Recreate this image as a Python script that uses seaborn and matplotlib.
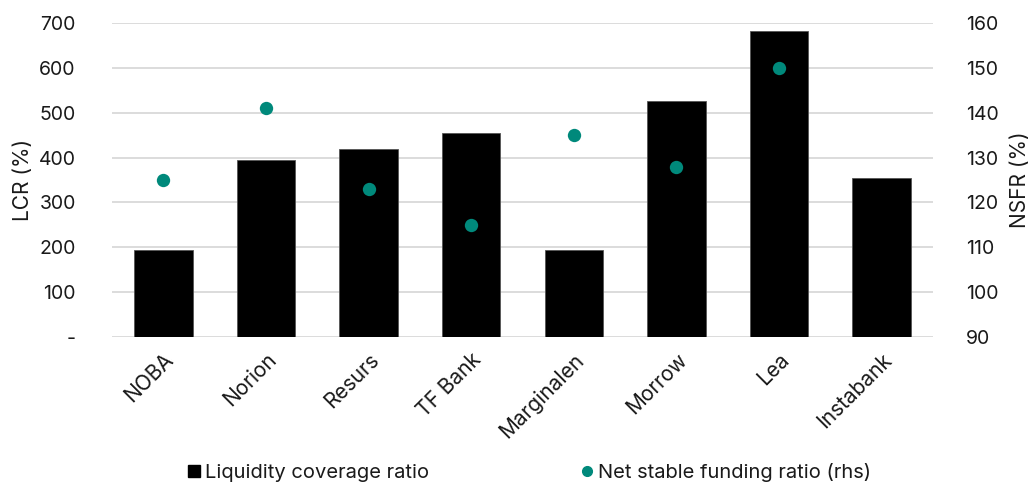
import numpy as np
import pandas as pd
import matplotlib
matplotlib.use("Agg")
import matplotlib.pyplot as plt
import seaborn as sns
from matplotlib.lines import Line2D
from matplotlib.ticker import FuncFormatter

banks = ["NOBA", "Norion", "Resurs", "TF Bank", "Marginalen", "Morrow", "Lea", "Instabank"]
lcr = [193, 395, 420, 454, 195, 527, 682, 354]
nsfr = [125, 141, 123, 115, 135, 128, 150, np.nan]

lcr_ticks = [0, 100, 200, 300, 400, 500, 600, 700]
nsfr_ticks = [90, 100, 110, 120, 130, 140, 150, 160]

bar_color = "#000000"
dot_color = "#00897b"
grid_color = "#d9d9d9"
text_color = "#1a1a1a"

sns.set_theme(style="white")
plt.rcParams["font.family"] = ["Inter", "DejaVu Sans"]

df = pd.DataFrame({"bank": banks, "lcr": lcr, "nsfr": nsfr})

fig = plt.figure(figsize=(10.34, 4.83), dpi=100)
ax = fig.add_axes([0.1083, 0.3023, 0.7940, 0.6501])
ax2 = ax.twinx()

sns.barplot(data=df, x="bank", y="lcr", color=bar_color, width=0.57,
            edgecolor="#555555", linewidth=0.6, ax=ax, zorder=3, saturation=1)
sns.stripplot(data=df, x="bank", y="nsfr", color=dot_color, size=9.6,
              jitter=False, ax=ax2, zorder=4, linewidth=0)

ax.set_ylim(0, 700)
ax.set_yticks(lcr_ticks)
ax.yaxis.set_major_formatter(FuncFormatter(lambda v, p: "-" if v == 0 else f"{int(v)}"))
ax2.set_ylim(90, 160)
ax2.set_yticks(nsfr_ticks)
ax.set_xlim(-0.5, len(banks) - 0.5)

ax.yaxis.grid(True, color=grid_color, linewidth=1.3, zorder=0)
ax.set_axisbelow(True)
for a in (ax, ax2):
    for s in a.spines.values():
        s.set_visible(False)
    a.tick_params(length=0, labelsize=14, colors=text_color)

ax.tick_params(axis="y", pad=26)
ax2.tick_params(axis="y", pad=24)
ax.set_xlabel("")
ax2.set_xlabel("")
ax.set_ylabel("LCR (%)", fontsize=15, color=text_color, labelpad=4)
ax2.set_ylabel("NSFR (%)", fontsize=15, color=text_color, labelpad=8)

ax.set_xticks(range(len(banks)))
ax.set_xticklabels(banks, rotation=45, ha="right", rotation_mode="anchor", fontsize=15)
ax.tick_params(axis="x", pad=9)

handles = [
    Line2D([], [], marker="s", linestyle="none", markersize=9, color=bar_color),
    Line2D([], [], marker="o", linestyle="none", markersize=7, color=dot_color),
]
fig.legend(handles, ["Liquidity coverage ratio", "Net stable funding ratio (rhs)"],
           loc="lower center", bbox_to_anchor=(0.5116, -0.035), ncol=2, frameon=False,
           fontsize=14.5, handlelength=0.7, handletextpad=0.2, columnspacing=7.5,
           labelcolor=text_color)

fig.savefig("out.png", dpi=100)
